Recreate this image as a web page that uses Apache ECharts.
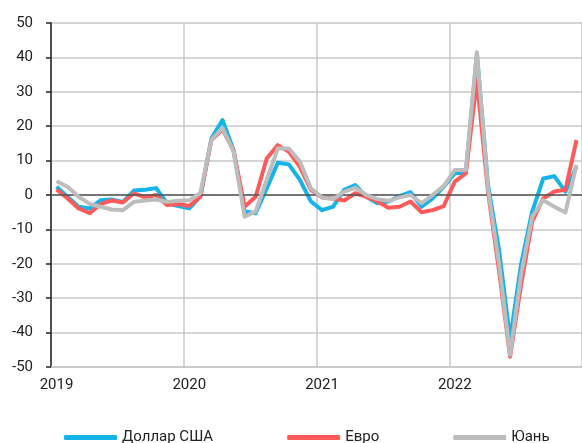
<!DOCTYPE html>
<html><head><meta charset="utf-8">
<script src="https://cdn.jsdelivr.net/npm/echarts@6/dist/echarts.min.js"></script>
<style>html,body{margin:0;padding:0;background:#fff}#c{width:582px;height:443px}</style>
</head><body><div id="c"></div>
<script>
const months = [];
for (let y = 2019; y <= 2022; y++) for (let m = 1; m <= 12; m++) months.push(y + '-' + (m < 10 ? '0' + m : m));
const yearLabels = { '2019-01': '2019', '2020-01': '2020', '2021-01': '2021', '2022-01': '2022' };
const seriesNames = ['Доллар США', 'Евро', 'Юань'];
const usd = [2.4,-0.5,-3.4,-3.9,-1.5,-1.3,-2,1.3,1.5,2,-2.4,-3.2,
  -3.9,-0.5,16.4,21.8,13,-4.8,-5.3,1.9,9.4,8.9,4.4,-1.9,
  -4.4,-3.4,1.5,2.9,-0.5,-2.4,-1.9,-0.3,0.8,-3.4,-1,2.4,
  6.3,6.5,41,3,-16,-42,-20,-4.8,4.8,5.5,1,8.2];
const eur = [1.6,-1,-3.9,-5.3,-2.6,-1.6,-2.2,0.5,-0.7,0,-2.9,-2.6,
  -3.2,-0.5,16,19,13,-3.4,-0.5,10.6,14.5,12.6,8.2,1.5,
  -0.7,-1,-1.6,0.5,-0.5,-1.9,-3.7,-3.4,-1.9,-5,-4.4,-3.2,
  3.9,6.3,33.5,1,-22,-47,-26,-7.7,-1,1,1.5,16];
const cny = [4,2.4,-0.5,-2.6,-3.4,-4.2,-4.4,-2,-1.6,-1.3,-2,-1.7,
  -1.5,0.5,16,19.5,12.6,-6.3,-4.8,4.4,13.5,13.5,9.7,1.9,
  -0.7,-1.2,1,2.1,0,-1.2,-1.7,-0.7,0,-2.4,0,2.6,
  7.3,7.3,41.5,2,-20,-46.5,-23,-6.3,-1.5,-3.4,-5.1,8.7];
const colors = ['#13b4ea', '#ff5a5a', '#bdbdbd'];
const dataSets = [usd, eur, cny];

const font = 'Roboto, "Noto Sans", sans-serif';
const chart = echarts.init(document.getElementById('c'), null, { renderer: 'canvas' });
chart.setOption({
  animation: false,
  grid: { left: 51, right: 0, top: 23, bottom: 76, containLabel: false },
  legend: {
    left: 59, top: 425,
    itemWidth: 53, itemHeight: 5, itemGap: 74,
    icon: 'roundRect',
    textStyle: { fontSize: 15, color: '#222', fontFamily: font },
    data: seriesNames
  },
  xAxis: {
    type: 'category', data: months, boundaryGap: true,
    axisLine: { onZero: false, lineStyle: { color: '#c8c8c8', width: 1.5 } },
    axisTick: { show: false },
    axisLabel: { interval: 11, margin: 11, fontSize: 15, color: '#222', fontFamily: font,
      formatter: v => yearLabels[v] || '' },
    splitLine: { show: true, interval: 11, lineStyle: { color: '#c8c8c8', width: 1.5 } }
  },
  yAxis: {
    type: 'value', min: -50, max: 50, interval: 10,
    axisLine: { show: true, lineStyle: { color: '#222', width: 1.5 } },
    axisTick: { show: true, length: 5, lineStyle: { color: '#222', width: 1.5 } },
    axisLabel: { margin: 18, fontSize: 15, color: '#222', fontFamily: font },
    splitLine: { show: true, lineStyle: { color: '#c8c8c8', width: 1.5 } }
  },
  series: seriesNames.map((n, i) => ({
    name: n, type: 'line', data: dataSets[i], symbol: 'none', smooth: false,
    z: 3 + i,
    lineStyle: { color: colors[i], width: 4, join: 'round' },
    itemStyle: { color: colors[i] },
    markLine: i === 0 ? {
      silent: true, symbol: 'none', label: { show: false },
      lineStyle: { color: '#555', width: 1.5, type: 'solid' },
      data: [{ yAxis: 0 }]
    } : undefined
  }))
});
</script></body></html>
